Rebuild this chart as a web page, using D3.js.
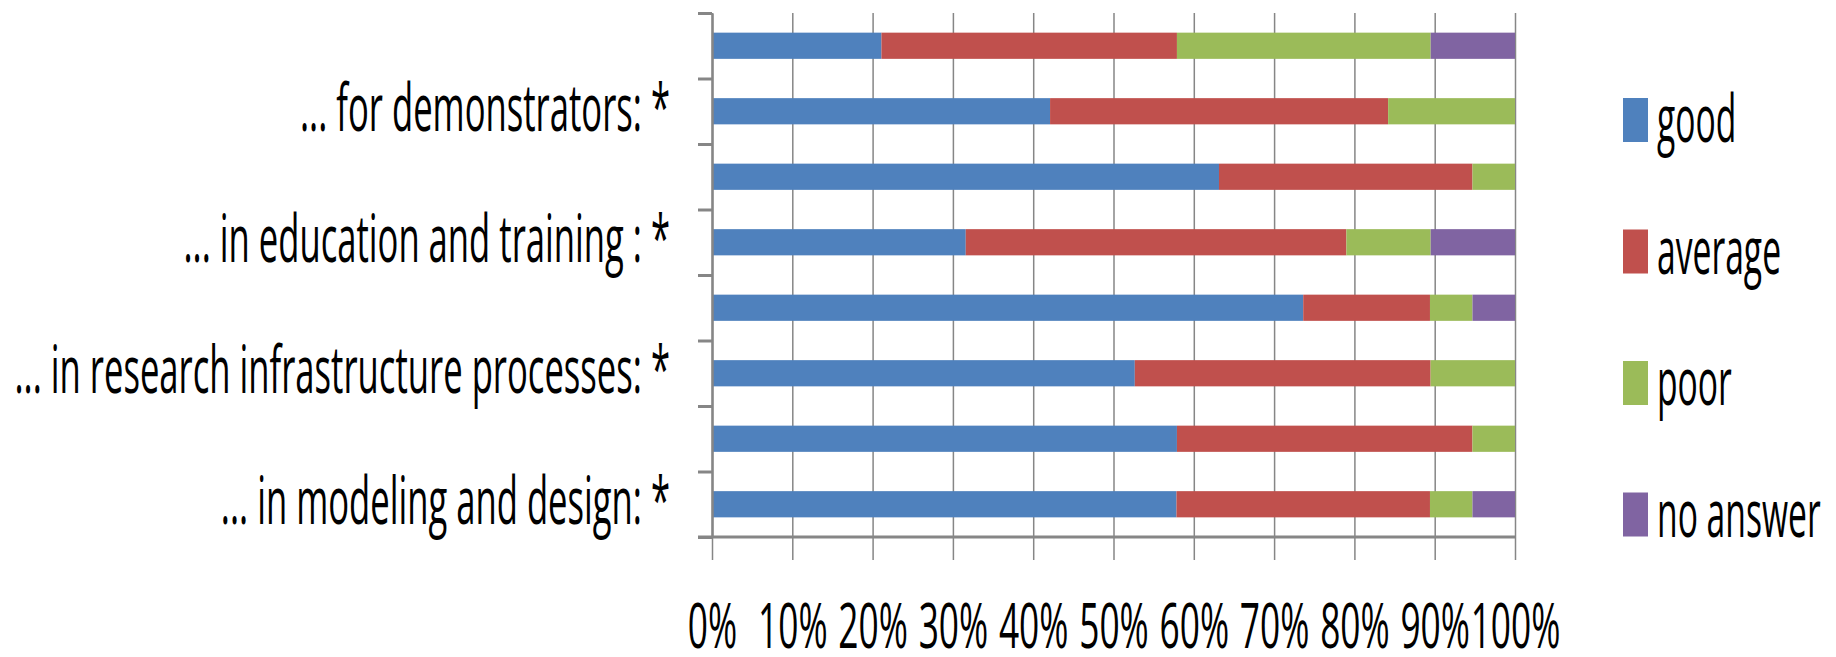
<!DOCTYPE html>
<html>
<head>
<meta charset="utf-8">
<script src="https://cdn.jsdelivr.net/npm/d3@7"></script>
<style>
  html, body { margin: 0; padding: 0; background: #fff; }
  svg { display: block; }
</style>
</head>
<body>
<div id="chart"></div>
<script>
// one row per bar, top to bottom; only every second category label is shown
const categories = ["", "... for demonstrators: *", "", "... in education and training : *",
  "", "... in research infrastructure processes: *", "", "... in modeling and design: *"]
const seriesNames = ["good", "average", "poor", "no answer"]
const good     = [21.1, 42.1, 63.2, 31.6, 73.7, 52.6, 57.9, 57.9]
const average  = [36.8, 42.1, 31.6, 47.4, 15.8, 36.8, 36.8, 31.6]
const poor     = [31.6, 15.8,  5.3, 10.5,  5.3, 10.5,  5.3,  5.3]
const noAnswer = [10.5,  0,    0,   10.5,  5.3,  0,    0,    5.3]
const xTicks = [0, 0.1, 0.2, 0.3, 0.4, 0.5, 0.6, 0.7, 0.8, 0.9, 1]
const COLORS = ["#4F81BD", "#C0504D", "#9BBB59", "#8064A2"]

const W = 1836, H = 657
const MARGIN = {top: 13, right: 321, bottom: 120, left: 712}
const FONT = "'Open Sans', sans-serif"

let rows = categories.map((c, i) => ({
  idx: i, "good": good[i], "average": average[i], "poor": poor[i], "no answer": noAnswer[i]
}))
let stacked = d3.stack().keys(seriesNames).offset(d3.stackOffsetExpand)(rows)

let svg = d3.select("#chart").append("svg").attr("width", W).attr("height", H)

let x = d3.scaleLinear().domain([0, 1]).range([MARGIN.left, W - MARGIN.right])
let y = d3.scaleBand().domain(d3.range(categories.length))
  .range([MARGIN.top, H - MARGIN.bottom]).paddingInner(0.6).paddingOuter(0.3)
let yEdges = d3.scaleLinear().domain([0, categories.length]).range([MARGIN.top, H - MARGIN.bottom])

// vertical gridlines + bottom ticks
let gx = svg.append("g")
  .attr("transform", `translate(0,${H - MARGIN.bottom})`)
  .call(d3.axisBottom(x).tickValues(xTicks).tickFormat(d3.format(".0%"))
    .tickSizeOuter(0).tickSizeInner(23))
gx.select(".domain").remove()
gx.selectAll(".tick line").clone(true)
  .attr("y2", -(H - MARGIN.bottom - MARGIN.top))
gx.selectAll(".tick line").attr("stroke", "#868686").attr("stroke-width", 1.5)
gx.selectAll(".tick text")
  .attr("y", 0).attr("dy", 0)
  .attr("transform", "translate(0,111) scale(0.56,1)")
  .attr("fill", "#000")
  .style("font-family", FONT).style("font-size", "63px")

// bars
svg.append("g").selectAll("g")
  .data(stacked).join("g")
  .attr("fill", (d, i) => COLORS[i])
  .selectAll("rect")
  .data(d => d).join("rect")
  .attr("x", d => x(d[0]))
  .attr("width", d => x(d[1]) - x(d[0]))
  .attr("y", d => y(d.data.idx))
  .attr("height", y.bandwidth())

// category axis: ticks on band edges
let gy = svg.append("g")
  .attr("transform", `translate(${MARGIN.left},0)`)
  .call(d3.axisLeft(yEdges).tickValues(d3.range(categories.length + 1))
    .tickFormat("").tickSizeInner(14).tickSizeOuter(0))
gy.select(".domain").attr("stroke", "#868686").attr("stroke-width", 2.5)
gy.selectAll(".tick line").attr("stroke", "#868686").attr("stroke-width", 3)

// bottom axis line
svg.append("line")
  .attr("x1", MARGIN.left - 14).attr("x2", x(1))
  .attr("y1", H - MARGIN.bottom).attr("y2", H - MARGIN.bottom)
  .attr("stroke", "#868686").attr("stroke-width", 3)

// category labels
svg.append("g").selectAll("text")
  .data(categories).join("text")
  .attr("transform", (d, i) => `translate(${MARGIN.left - 42},${y(i) + y.bandwidth() / 2 + 20}) scale(0.525,1)`)
  .attr("text-anchor", "end")
  .style("font-family", FONT).style("font-size", "66px")
  .text(d => d)

// legend
let legend = svg.append("g").selectAll("g")
  .data(seriesNames).join("g")
  .attr("transform", (d, i) => `translate(1623,${98 + i * 131.5})`)
legend.append("rect")
  .attr("width", 25).attr("height", 44)
  .attr("fill", (d, i) => COLORS[i])
legend.append("text")
  .attr("transform", "translate(34,44) scale(0.51,1)")
  .style("font-family", FONT).style("font-size", "66px")
  .text(d => d)
</script>
</body>
</html>
